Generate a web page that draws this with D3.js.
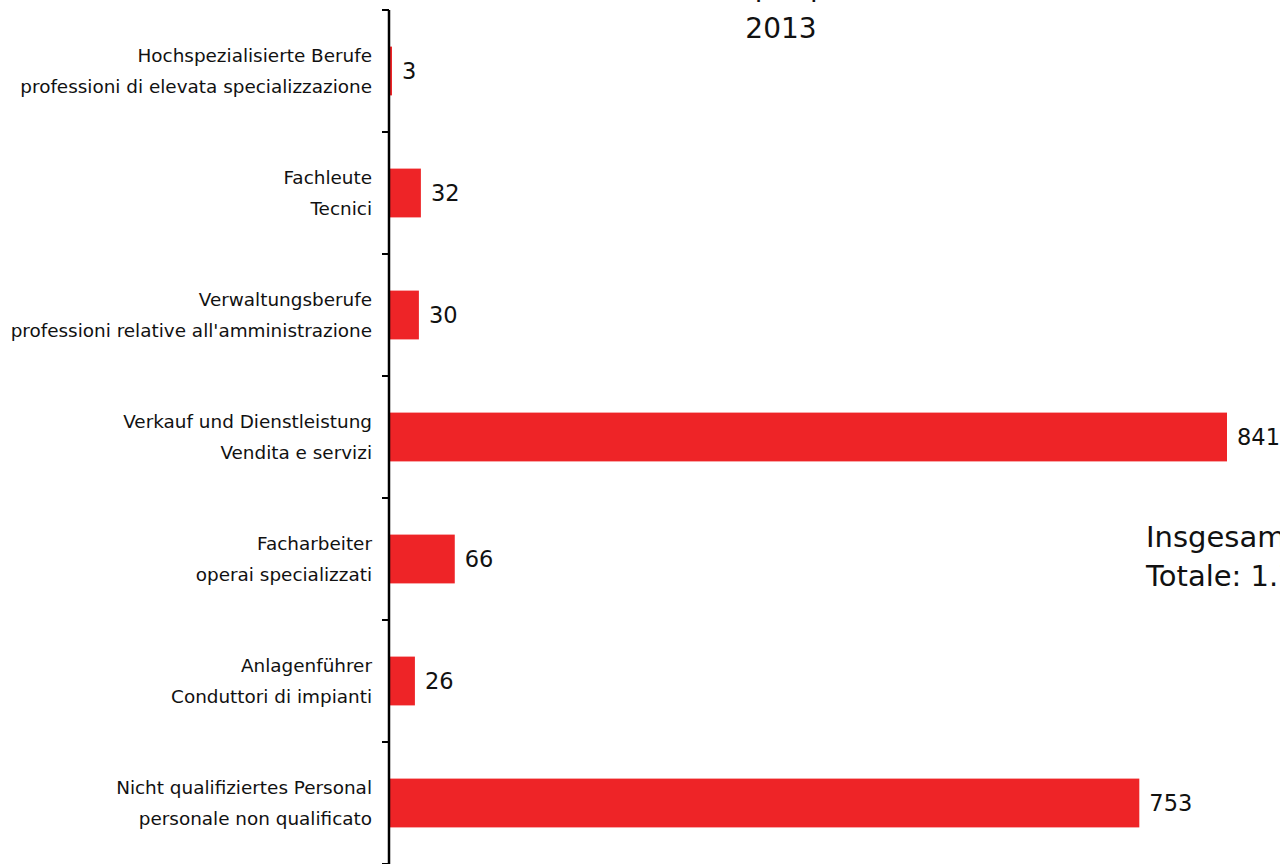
<!DOCTYPE html>
<html><head><meta charset="utf-8">
<script src="https://cdn.jsdelivr.net/npm/d3@7"></script>
<style>html,body{margin:0;padding:0;background:#fff;overflow:hidden}svg{display:block}</style>
</head><body>
<svg id="c" width="1280" height="864"></svg>
<script>
const categoriesDe = ["Hochspezialisierte Berufe","Fachleute","Verwaltungsberufe","Verkauf und Dienstleistung","Facharbeiter","Anlagenführer","Nicht qualifiziertes Personal"];
const categoriesIt = ["professioni di elevata specializzazione","Tecnici","professioni relative all'amministrazione","Vendita e servizi","operai specializzati","Conduttori di impianti","personale non qualificato"];
const values = [3,32,30,841,66,26,753];
const titleLines = ["Arbeitslose per professione","2013"];
const totalLines = ["Insgesamt: 1.751","Totale: 1.751"];

const font = "'DejaVu Sans', sans-serif";
const svg = d3.select("#c");
const x0 = 389;
const x = d3.scaleLinear().domain([0, 841]).range([x0, 1227]);
const ids = d3.range(values.length);
const y = d3.scaleBand().domain(ids).range([10, 864]).paddingInner(0.6).paddingOuter(0.3);

svg.append("g").selectAll("rect").data(ids).join("rect")
  .attr("x", x0).attr("y", i => y(i)).attr("width", i => x(values[i]) - x0).attr("height", y.bandwidth())
  .attr("fill", "#ee2427");

svg.append("g").selectAll("text").data(ids).join("text")
  .attr("x", i => x(values[i]) + 10).attr("y", i => y(i) + y.bandwidth()/2)
  .attr("dominant-baseline","central")
  .attr("font-family", font).attr("font-size", 22.5).attr("fill","#111")
  .text(i => values[i]);

// axis
const step = y.step();
const tickYs = d3.range(values.length + 1).map(i => 10 + i*step);
const ax = svg.append("g");
ax.append("line").attr("x1", x0).attr("x2", x0).attr("y1", 10).attr("y2", 864).attr("stroke","#000").attr("stroke-width",2.5);
ax.selectAll("line.t").data(tickYs).join("line").attr("class","t")
  .attr("x1", x0-7).attr("x2", x0).attr("y1", d=>d).attr("y2", d=>d).attr("stroke","#000").attr("stroke-width",2);

const lab = svg.append("g").attr("font-family", font).attr("font-size", 18.4).attr("fill","#111").attr("text-anchor","end");
ids.forEach(i => {
  const cy = y(i) + y.bandwidth()/2;
  lab.append("text").attr("x", 372).attr("y", cy - 15.5).attr("dominant-baseline","central").text(categoriesDe[i]);
  lab.append("text").attr("x", 372).attr("y", cy + 15.5).attr("dominant-baseline","central").text(categoriesIt[i]);
});

svg.append("g").attr("font-family", font).attr("font-size", 28).attr("fill","#111").attr("text-anchor","middle")
  .selectAll("text").data(titleLines).join("text")
  .attr("x", 781).attr("y", (d,i) => -4 + i*42).text(d => d);

svg.append("g").attr("font-family", font).attr("font-size", 29).attr("fill","#111")
  .selectAll("text").data(totalLines).join("text")
  .attr("x", 1146).attr("y", (d,i) => 547 + i*39).text(d => d);
</script>
</body></html>
